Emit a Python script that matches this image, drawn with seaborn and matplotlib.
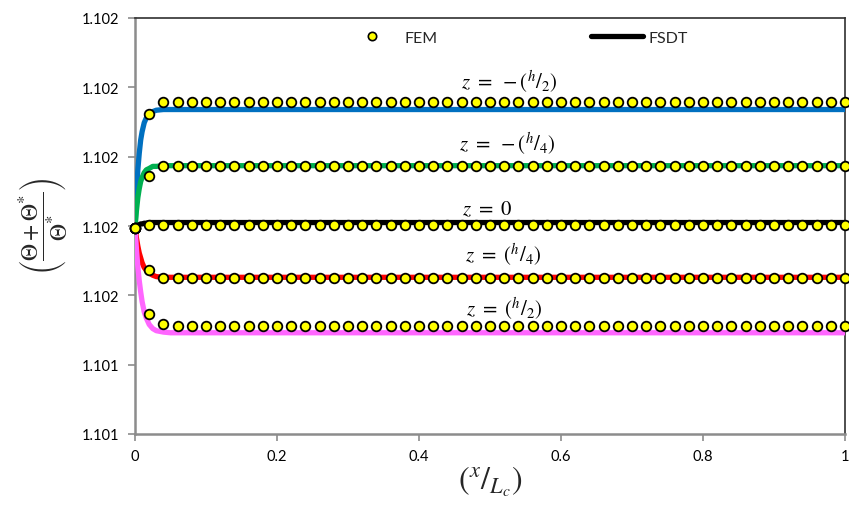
import numpy as np
import pandas as pd
import matplotlib
matplotlib.use("Agg")
import matplotlib.pyplot as plt
import seaborn as sns
from matplotlib.lines import Line2D

# ---------------- data ----------------
series_names = ["z=-h/2", "z=-h/4", "z=0", "z=h/4", "z=h/2"]
series_colors = ["#0070C0", "#00B050", "#000000", "#FF0000", "#FF66FF"]

x_fsdt = [0, 0.002, 0.004, 0.006, 0.008, 0.01, 0.013, 0.016, 0.02, 0.025, 0.03, 0.04, 0.05, 1.0]
fsdt_m_h2 = [1.101697, 1.101745, 1.101781, 1.101805, 1.101824, 1.101836, 1.101849, 1.101856,
             1.101861, 1.101865, 1.101867, 1.101868, 1.101868, 1.101868]
fsdt_m_h4 = [1.101697, 1.101722, 1.101741, 1.101754, 1.101764, 1.101770, 1.101777, 1.101781,
             1.101783, 1.101786, 1.101786, 1.101787, 1.101787, 1.101787]
fsdt_0 = [1.101697, 1.101699, 1.101701, 1.101702, 1.101703, 1.101703, 1.101704, 1.101704,
          1.101705, 1.101705, 1.101705, 1.101705, 1.101705, 1.101705]
fsdt_p_h4 = [1.101697, 1.101683, 1.101671, 1.101661, 1.101654, 1.101647, 1.101640, 1.101636,
             1.101632, 1.101629, 1.101627, 1.101626, 1.101626, 1.101626]
fsdt_p_h2 = [1.101697, 1.101667, 1.101641, 1.101621, 1.101605, 1.101591, 1.101576, 1.101567,
             1.101558, 1.101552, 1.101549, 1.101547, 1.101546, 1.101546]

x_fem = list(np.round(np.arange(0, 1.0001, 0.02), 2))
fem_m_h2 = [1.101697, 1.101861] + [1.101879] * 49
fem_m_h4 = [1.101697, 1.101772] + [1.101787] * 49
fem_0 = [1.101697] + [1.101702] * 50
fem_p_h4 = [1.101697, 1.101637] + [1.101625] * 49
fem_p_h2 = [1.101697, 1.101573, 1.101559] + [1.101556] * 48

y_ticks = [1.1014, 1.1015, 1.1016, 1.1017, 1.1018, 1.1019, 1.1020]
y_tick_labels = ["1.101", "1.101", "1.102", "1.102", "1.102", "1.102", "1.102"]
x_ticks = [0, 0.2, 0.4, 0.6, 0.8, 1.0]
x_tick_labels = ["0", "0.2", "0.4", "0.6", "0.8", "1"]

labels_text = [r"$z\ =\ -\left({}^{h}/{}_{2}\right)$", r"$z\ =\ -\left({}^{h}/{}_{4}\right)$",
               r"$z\ =\ 0$",
               r"$z\ =\ \left({}^{h}/{}_{4}\right)$", r"$z\ =\ \left({}^{h}/{}_{2}\right)$"]
labels_x = [0.527, 0.525, 0.496, 0.518, 0.52]
labels_y = [1.101909, 1.101820, 1.101725, 1.101660, 1.101582]

# ---------------- build tables ----------------
fsdt_vals = [fsdt_m_h2, fsdt_m_h4, fsdt_0, fsdt_p_h4, fsdt_p_h2]
fem_vals = [fem_m_h2, fem_m_h4, fem_0, fem_p_h4, fem_p_h2]
df_fsdt = pd.concat([pd.DataFrame({"x": x_fsdt, "y": v, "series": s})
                     for s, v in zip(series_names, fsdt_vals)], ignore_index=True)
df_fem = pd.concat([pd.DataFrame({"x": x_fem, "y": v, "series": s})
                    for s, v in zip(series_names, fem_vals)], ignore_index=True)

# ---------------- style ----------------
sns.set_style("white")
plt.rcParams["font.family"] = ["Lato", "DejaVu Sans"]
plt.rcParams["mathtext.fontset"] = "stix"

fig = plt.figure(figsize=(8.49, 5.06), dpi=100)
ax = fig.add_axes([135 / 849, 1 - 435 / 506, 710 / 849, 416 / 506])

sns.lineplot(data=df_fsdt, x="x", y="y", hue="series", hue_order=series_names,
             palette=series_colors, linewidth=3.8, sort=False, estimator=None,
             legend=False, ax=ax, zorder=3)
sns.scatterplot(data=df_fem, x="x", y="y", color="#FFFF00", edgecolor="black",
                linewidth=1.3, s=48, legend=False, ax=ax, zorder=5, clip_on=False)

ax.set_xlim(0, 1)
ax.set_ylim(1.1014, 1.1020)
ax.set_xticks(x_ticks)
ax.set_xticklabels(x_tick_labels)
ax.set_yticks(y_ticks)
ax.set_yticklabels(y_tick_labels)
ax.tick_params(axis="both", direction="out", length=5, width=1.2, color="#8c8c8c",
               labelsize=10.5, labelcolor="black", pad=6)
ax.tick_params(axis="both", which="both", bottom=True, left=True)

for side in ["left", "bottom"]:
    ax.spines[side].set_color("#8c8c8c")
    ax.spines[side].set_linewidth(1.8)
for side in ["top", "right"]:
    ax.spines[side].set_color("#303030")
    ax.spines[side].set_linewidth(1.2)

for t, xx, yy in zip(labels_text, labels_x, labels_y):
    ax.text(xx, yy, t, ha="center", va="center", fontsize=15, color="black")

ax.set_xlabel(r"$\left({}^{x}/{}_{L_c}\right)$", fontsize=23)
ax.xaxis.set_label_coords(0.5, -0.072)
ax.set_ylabel(r"$\left(\dfrac{\Theta+\Theta^{*}}{\Theta^{*}}\right)$", fontsize=17)
ax.yaxis.set_label_coords(-0.092, 0.5)

handles = [Line2D([], [], linestyle="none", marker="o", markerfacecolor="#FFFF00",
                  markeredgecolor="black", markeredgewidth=1.2, markersize=6),
           Line2D([], [], color="black", linewidth=3.8, solid_capstyle="round")]
ax.legend(handles, ["FEM", "FSDT"], ncol=2, frameon=False, loc="center",
          bbox_to_anchor=(0.538, 0.952), fontsize=11.5, handlelength=3.3,
          handletextpad=0.35, columnspacing=9.6)

fig.savefig("out.png", dpi=100)
